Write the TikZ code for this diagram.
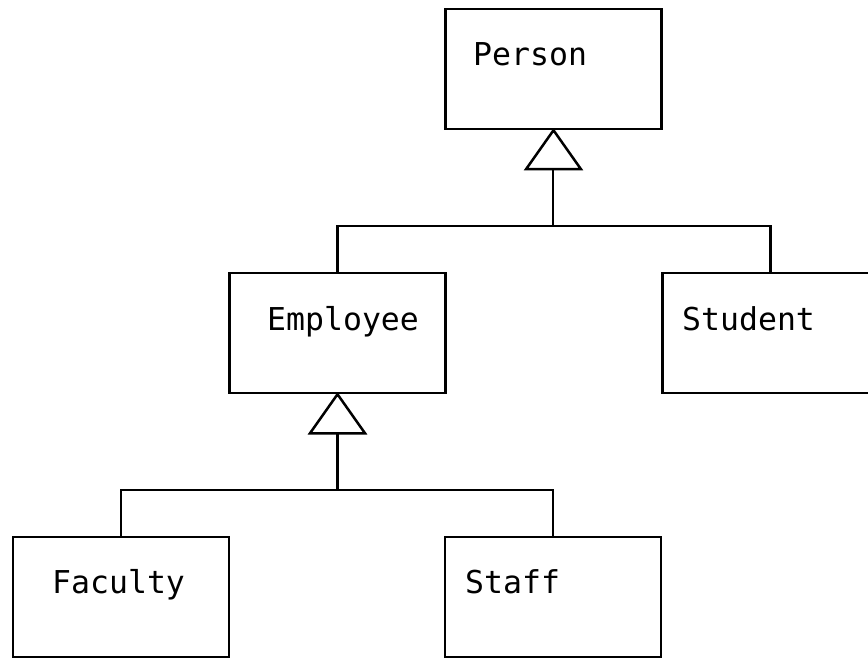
\documentclass[tikz,border=0pt]{standalone}
\usepackage{fontspec}
\newfontfamily\umlfont{DejaVu Sans Mono}
\begin{document}
\begin{tikzpicture}[x=1pt,y=-1pt,
  classbox/.style={draw=black,line width=2.5pt,minimum width=216pt,minimum height=120pt,inner sep=0pt,fill=white},
  classname/.style={anchor=base west,inner sep=0pt,font=\umlfont\fontsize{31.5}{36}\selectfont},
  conn/.style={draw=black,line width=2.5pt},
  gentri/.style={draw=black,line width=2.5pt,fill=white,line join=miter}]
\useasboundingbox (0,0) rectangle (868,658);
\clip (0,0) rectangle (868,658);
% boxes
\node[classbox] (P) at (553.5,69) {};
\node[classbox] (E) at (337.5,333) {};
\node[classbox] (S) at (770.5,333) {};
\node[classbox] (F) at (121,597) {};
\node[classbox] (T) at (553,597) {};
% names
\node[classname] (Pn) at (473,66) {Person};
\node[classname] (En) at (267,330) {Employee};
\node[classname] (Sn) at (682,330) {Student};
\node[classname] (Fn) at (52,593) {Faculty};
\node[classname] (Tn) at (465,593) {Staff};
% generalization 1
\coordinate (t1) at (553,168);
\coordinate (b1) at (553,226);
\draw[conn] (t1) -- (b1);
\draw[conn] (E.north) |- (b1) -| (S.north);
\draw[gentri] (P.south) -- ++(27.5,39) -- ++(-55,0) -- cycle;
% generalization 2
\coordinate (t2) at (337.5,432);
\coordinate (b2) at (337.5,490);
\draw[conn] (t2) -- (b2);
\draw[conn] (F.north) |- (b2) -| (T.north);
\draw[gentri] (E.south) -- ++(27.5,39) -- ++(-55,0) -- cycle;
\end{tikzpicture}
\end{document}
